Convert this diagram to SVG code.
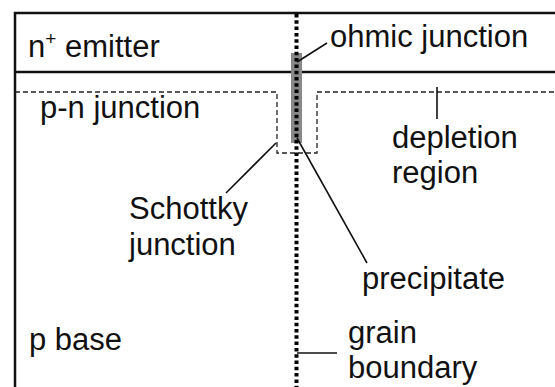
<svg xmlns="http://www.w3.org/2000/svg" width="555" height="387" viewBox="0 0 555 387">
<style>
.t{font-family:"Liberation Sans",Arial,sans-serif;font-size:31px;fill:#111}
.frame{stroke:#111;stroke-width:2.5;fill:none}
.dash{stroke:#222;stroke-width:1.3;fill:none;stroke-dasharray:5 3}
.lead{stroke:#111;stroke-width:1.6;fill:none}
.gb{stroke:#000;stroke-width:4;fill:none;stroke-dasharray:3.5 2.8}
</style>
<rect width="555" height="387" fill="#fff"/>
<g id="layers">
<path class="frame" d="M555,13 H15 V387 M15,72 H555"/>
</g>
<g id="depletion">
<path class="dash" d="M15,92 H277 V153 H317 V92 H555"/>
</g>
<g id="precipitate">
<rect x="291" y="53" width="11" height="90" fill="#888"/>
</g>
<g id="grain-boundary">
<line class="gb" x1="296.5" y1="14" x2="296.5" y2="387"/>
</g>
<g id="connectors">
<line class="lead" x1="297" y1="62" x2="327" y2="43"/>
<line class="lead" x1="437" y1="87" x2="437" y2="119"/>
<line class="lead" x1="276" y1="143" x2="226" y2="193"/>
<line class="lead" x1="297" y1="138" x2="367" y2="263"/>
<line class="lead" x1="297" y1="353" x2="337" y2="353"/>
</g>
<g id="labels">
<text class="t" x="28" y="57">n<tspan font-size="19" dy="-12">+</tspan><tspan dy="12"> emitter</tspan></text>
<text class="t" x="40" y="118">p-n junction</text>
<text class="t" x="330" y="47">ohmic junction</text>
<text class="t" x="392" y="148">depletion</text>
<text class="t" x="392" y="183">region</text>
<text class="t" x="129" y="219">Schottky</text>
<text class="t" x="129" y="255">junction</text>
<text class="t" x="362" y="289">precipitate</text>
<text class="t" x="29" y="350">p base</text>
<text class="t" x="348" y="343">grain</text>
<text class="t" x="348" y="378">boundary</text>
</g>
</svg>
